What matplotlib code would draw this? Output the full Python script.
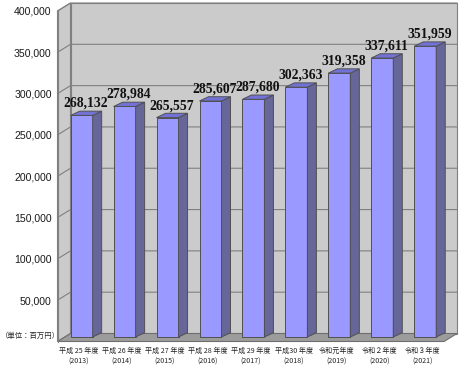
import matplotlib
matplotlib.use("Agg")
import matplotlib.pyplot as plt
import numpy as np
from matplotlib.transforms import Affine2D, IdentityTransform
from matplotlib.patches import Polygon, Rectangle
from matplotlib.lines import Line2D

# ---------------- data ----------------
categories = ["平成 25 年度", "平成 26 年度", "平成 27 年度", "平成 28 年度", "平成 29 年度",
              "平成30 年度", "令和元年度", "令和２年度", "令和３年度"]
years = ["(2013)", "(2014)", "(2015)", "(2016)", "(2017)", "(2018)", "(2019)", "(2020)", "(2021)"]
values = [268132, 278984, 265557, 285607, 287680, 302363, 319358, 337611, 351959]
yticks = [50000, 100000, 150000, 200000, 250000, 300000, 350000, 400000]
ytick_labels = ["50,000", "100,000", "150,000", "200,000", "250,000", "300,000", "350,000", "400,000"]
unit_label = "（単位：百万円）"

# ---------------- style ----------------
W, H = 461, 371
WALL = "#CBCBCB"
FLOOR = "#9C9C9C"
EDGE = "#808080"
GRID = "#808080"
BAR_FRONT = "#9999FF"
BAR_SIDE = "#666699"
BAR_TOP = "#7272D6"
BAR_EDGE = "#505050"
CJK = ["Noto Sans CJK JP", "DejaVu Sans"]

fig = plt.figure(figsize=(W / 100, H / 100), dpi=100)
fig.patch.set_facecolor("white")

L, R, B, T = 57.5, 444.0, 341.5, 11.0   # front plane in pixels (from top)
ax = fig.add_axes([L / W, 1 - B / H, (R - L) / W, (B - T) / H])
x0, x1 = -0.5, len(values) - 0.5
ymax = 400000
ax.set_xlim(x0, x1)
ax.set_ylim(0, ymax)
ax.patch.set_visible(False)
for s in ax.spines.values():
    s.set_visible(False)
ax.set_xticks([])
ax.set_yticks(yticks, ytick_labels)
ax.tick_params(axis="y", length=0, pad=4.2, labelsize=7.6, labelcolor="#1a1a1a")
for t in ax.get_yticklabels():
    t.set_fontfamily(["Liberation Sans", "DejaVu Sans"])

DEPTH = np.array([13.0, 8.0])
back = ax.transData + Affine2D().translate(*DEPTH)
ident = IdentityTransform()


def d(x, y, tr=None):
    return (tr or ax.transData).transform((x, y))


# back wall
ax.add_patch(Rectangle((x0, 0), x1 - x0, ymax, transform=back, fc=WALL, ec=EDGE,
                       lw=0.8, zorder=0, clip_on=False))
# side wall
ax.add_patch(Polygon([d(x0, 0), d(x0, ymax), d(x0, ymax, back), d(x0, 0, back)],
                     closed=True, transform=ident, fc=WALL, ec=EDGE, lw=0.8, zorder=0.5,
                     clip_on=False))
# floor
ax.add_patch(Polygon([d(x0, 0), d(x1, 0), d(x1, 0, back), d(x0, 0, back)],
                     closed=True, transform=ident, fc=FLOOR, ec="#6e6e6e", lw=0.8, zorder=1,
                     clip_on=False))
# grid lines
for v in yticks:
    pts = np.array([d(x0, v), d(x0, v, back), d(x1, v, back)])
    ax.add_line(Line2D(pts[:, 0], pts[:, 1], transform=ident, color=GRID, lw=0.8,
                       zorder=1.5, clip_on=False))
# front axis
pts = np.array([d(x0, 0), d(x0, ymax)])
ax.add_line(Line2D(pts[:, 0], pts[:, 1], transform=ident, color=EDGE, lw=0.8, zorder=2,
                   clip_on=False))

# bars
BOFF = (2.7, 4.5)
BD = np.array([9.0, 4.3])
front = ax.transData + Affine2D().translate(*BOFF)
xs = np.arange(len(values))
bars = ax.bar(xs, values, width=0.512, transform=front, color=BAR_FRONT,
              edgecolor=BAR_EDGE, lw=0.7, zorder=3, clip_on=False)
for r, v in zip(bars, values):
    xl = r.get_x()
    xr = xl + r.get_width()
    top = r.get_height()
    a = front.transform((xr, 0))
    b = front.transform((xr, top))
    c = front.transform((xl, top))
    ax.add_patch(Polygon([a, b, b + BD, a + BD], closed=True, transform=ident,
                         fc=BAR_SIDE, ec=BAR_EDGE, lw=0.7, zorder=3, clip_on=False))
    ax.add_patch(Polygon([c, b, b + BD, c + BD], closed=True, transform=ident,
                         fc=BAR_TOP, ec=BAR_EDGE, lw=0.7, zorder=3, clip_on=False))
    ax.annotate(f"{v:,}", xy=(r.get_x() + r.get_width() / 2, top), xycoords=front,
                xytext=(BD[0] / 2, 12), textcoords="offset pixels", ha="center", va="center",
                fontfamily=["Liberation Serif", "DejaVu Serif"], fontweight="bold",
                fontsize=9.8, color="#111111", annotation_clip=False, zorder=5)

# category labels
for i, (cat, yr) in enumerate(zip(categories, years)):
    ax.annotate(cat, xy=(i, 0), xycoords="data", xytext=(0, -9.3), textcoords="offset pixels",
                ha="center", va="center", fontsize=5.1, fontfamily=CJK, color="#222222",
                annotation_clip=False)
    ax.annotate(yr, xy=(i, 0), xycoords="data", xytext=(0, -20.3), textcoords="offset pixels",
                ha="center", va="center", fontsize=5.1, fontfamily=CJK, color="#222222",
                annotation_clip=False)

fig.text(0.5 / W, 1 - 336 / H, unit_label, fontsize=5.3, fontfamily=CJK, ha="left",
         va="center", color="#222222")

fig.savefig("out.png", dpi=100)
